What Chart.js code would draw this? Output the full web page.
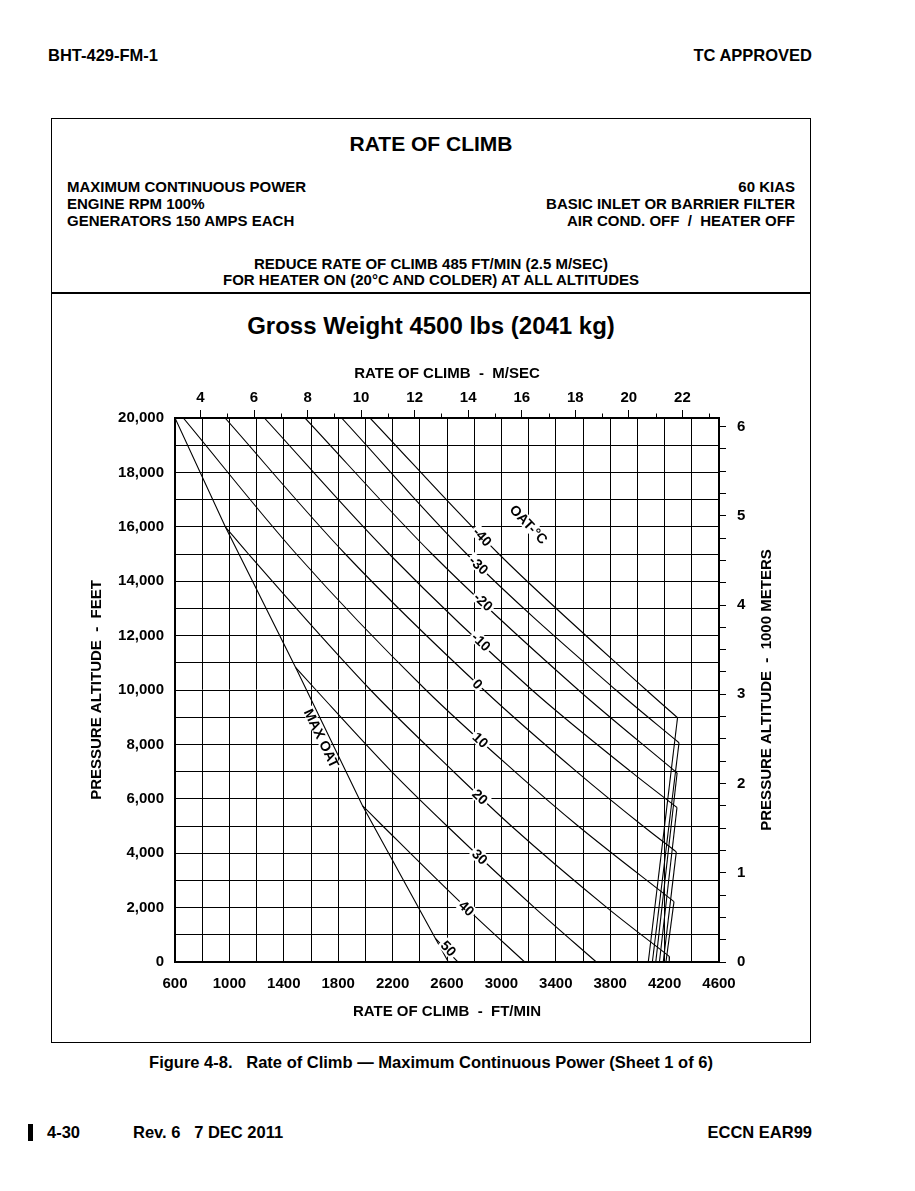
<!DOCTYPE html>
<html><head><meta charset="utf-8">
<script src="https://cdn.jsdelivr.net/npm/chart.js@4.4.1/dist/chart.umd.min.js"></script>
<style>
html,body{margin:0;padding:0;background:#fff;}
body{width:915px;height:1191px;position:relative;overflow:hidden;font-family:"Liberation Sans",Arial,Helvetica,sans-serif;font-weight:bold;color:#000;}
.t{position:absolute;white-space:pre;line-height:20px;height:20px;}
.c{left:0;width:862px;text-align:center;}
#box{position:absolute;left:51px;top:118px;width:760px;height:925px;border:1.5px solid #000;box-sizing:border-box;}
#div{position:absolute;left:51px;top:292px;width:760px;height:1.5px;background:#000;}
#bar{position:absolute;left:28px;top:1124px;width:5px;height:17px;background:#000;}
canvas{position:absolute;left:0;top:0;}
</style></head>
<body>
<div class="t" style="left:48px;top:45px;font-size:16.5px">BHT-429-FM-1</div>
<div class="t" style="right:103px;top:45px;font-size:16.5px">TC APPROVED</div>
<div id="box"></div>
<div id="div"></div>
<div class="t c" style="top:130px;height:28px;line-height:28px;font-size:21px">RATE OF CLIMB</div>
<div class="t" style="left:67px;top:177px;font-size:15px">MAXIMUM CONTINUOUS POWER</div>
<div class="t" style="left:67px;top:194px;font-size:15px">ENGINE RPM 100%</div>
<div class="t" style="left:67px;top:211px;font-size:15px">GENERATORS 150 AMPS EACH</div>
<div class="t" style="right:120px;top:177px;font-size:15px">60 KIAS</div>
<div class="t" style="right:120px;top:194px;font-size:15px">BASIC INLET OR BARRIER FILTER</div>
<div class="t" style="right:120px;top:211px;font-size:15px">AIR COND. OFF  /  HEATER OFF</div>
<div class="t c" style="top:254px;font-size:15px">REDUCE RATE OF CLIMB 485 FT/MIN (2.5 M/SEC)</div>
<div class="t c" style="top:270px;font-size:15px">FOR HEATER ON (20°C AND COLDER) AT ALL ALTITUDES</div>
<div class="t c" style="top:311px;height:30px;line-height:30px;font-size:24px">Gross Weight 4500 lbs (2041 kg)</div>
<div class="t c" style="top:1052px;font-size:16.5px">Figure 4-8.   Rate of Climb — Maximum Continuous Power (Sheet 1 of 6)</div>
<div id="bar"></div>
<div class="t" style="left:47px;top:1122px;font-size:16.5px">4-30</div>
<div class="t" style="left:133px;top:1122px;font-size:16.5px">Rev. 6   7 DEC 2011</div>
<div class="t" style="right:103px;top:1122px;font-size:16.5px">ECCN EAR99</div>
<canvas id="c" width="915" height="1191"></canvas>
<script>
// ---- tick labels ----
const rateTickLabels = [600, 1000, 1400, 1800, 2200, 2600, 3000, 3400, 3800, 4200, 4600];
const altTickLabels = [0, 2000, 4000, 6000, 8000, 10000, 12000, 14000, 16000, 18000, 20000];
const msTickLabels = [4, 6, 8, 10, 12, 14, 16, 18, 20, 22];
const msMinorTicks = [5, 7, 9, 11, 13, 15, 17, 19, 21, 23];
const kmTickLabels = [0, 1, 2, 3, 4, 5, 6];
const kmMinorTicks = [0.25, 0.5, 0.75, 1.25, 1.5, 1.75, 2.25, 2.5, 2.75, 3.25, 3.5, 3.75, 4.25, 4.5, 4.75, 5.25, 5.5, 5.75];

// ---- series: [rate of climb ft/min, pressure altitude ft] ----
const maxOat = [[600,20000],[970,16000],[1488,10820],[1978,5750],[2610,0]];
const oatM40 = [[2034,20000],[2981,15000],[4065,10000],[4295,8980],[4080,0]];
const oatM30 = [[1825,20000],[2745,15000],[3842,10000],[4306,8060],[4110,0]];
const oatM20 = [[1556,20000],[2490,15000],[3566,10000],[4292,6950],[4135,0]];
const oatM10 = [[1257,20000],[2175,15000],[3225,10000],[3952,7000],[4291,5680],[4162,0]];
const oat0   = [[968,20000],[1852,15000],[2871,10000],[3553,7000],[4041,5000],[4286,4050],[4190,0]];
const oat10  = [[661,20000],[1492,15000],[2445,10000],[3099,7000],[3564,5000],[4269,2220],[4210,0]];
const oat20  = [[970,16000],[1140,15000],[2038,10000],[2648,7000],[3073,5000],[3776,2000],[4236,200],[4234,0]];
const oat30  = [[1488,10820],[1637,10000],[2193,7000],[2600,5000],[3243,2000],[3698,0]];
const oat40  = [[1978,5750],[2128,5000],[2739,2000],[3171,0]];
const oat50  = [[2513,880],[2680,0]];

const oatNames = ['-40','-30','-20','-10','0','10','20','30','40','50'];
const oatSeries = [oatM40, oatM30, oatM20, oatM10, oat0, oat10, oat20, oat30, oat40, oat50];
const oatLabelAlt = [15636, 14596, 13246, 11776, 10221, 8162, 6077, 3871, 1974, 503];
const oatLabelRate = [null, null, null, null, null, null, null, null, null, 2612];
const oatTitlePos = [3201, 16091];
const maxOatLabelPos = [1678, 8224];

const FT_PER_MS = 196.850394;
const FT_PER_KM = 3280.8399;

const FONT = '"Liberation Sans", Arial, Helvetica, sans-serif';
const f15 = {family: FONT, size: 15, weight: 'bold'};

const lineStyle = {showLine: true, pointRadius: 0, borderColor: '#000', borderWidth: 1.1, fill: false, xAxisID: 'x', yAxisID: 'y'};
const toXY = s => s.map(p => ({x: p[0], y: p[1]}));
const datasets = [Object.assign({label: 'MAX OAT', data: toXY(maxOat), tension: 0}, lineStyle)];
oatSeries.forEach((s, i) => {
  // split at the power-limit corner (largest rate); the diagonal part is a smooth curve
  let k = 0;
  s.forEach((p, j) => { if (p[0] > s[k][0]) k = j; });
  datasets.push(Object.assign({label: oatNames[i], data: toXY(s.slice(0, k + 1)), cubicInterpolationMode: 'monotone'}, lineStyle));
  if (k < s.length - 1) {
    datasets.push(Object.assign({label: oatNames[i] + ' limit', data: toXY(s.slice(k)), tension: 0}, lineStyle));
  }
});

function segAt(series, alt) {
  for (let j = 0; j < series.length - 1; j++) {
    const a = series[j], b = series[j + 1];
    if (alt <= a[1] && alt >= b[1]) return [a, b];
  }
  return [series[0], series[1]];
}
function rotLabel(ctx, text, px, py, ang, font, bg, bgH) {
  ctx.save();
  ctx.translate(px, py);
  ctx.rotate(ang);
  ctx.font = font;
  const w = ctx.measureText(text).width;
  if (bg) { ctx.fillStyle = '#fff'; ctx.fillRect(-w / 2 - 2, -bgH / 2, w + 4, bgH); }
  ctx.fillStyle = '#000';
  ctx.textAlign = 'center';
  ctx.textBaseline = 'middle';
  ctx.fillText(text, 0, 1);
  ctx.restore();
}

const annot = {
  id: 'annot',
  afterDatasetsDraw(chart) {
    const ctx = chart.ctx, xs = chart.scales.x, ys = chart.scales.y;
    const P = (X, Y) => [xs.getPixelForValue(X), ys.getPixelForValue(Y)];
    const angOf = (a, b) => { const pa = P(a[0], a[1]), pb = P(b[0], b[1]); return Math.atan2(pb[1] - pa[1], pb[0] - pa[0]); };
    oatSeries.forEach((s, i) => {
      const alt = oatLabelAlt[i];
      const [a, b] = segAt(s, alt);
      const X = oatLabelRate[i] !== null ? oatLabelRate[i] : a[0] + (b[0] - a[0]) * (a[1] - alt) / (a[1] - b[1]);
      const [px, py] = P(X, alt);
      rotLabel(ctx, oatNames[i], px, py, angOf(a, b), 'bold 14px ' + FONT, true, 13);
    });
    let sg = segAt(oatM40, oatTitlePos[1]);
    let p = P(oatTitlePos[0], oatTitlePos[1]);
    rotLabel(ctx, 'OAT-°C', p[0], p[1], angOf(sg[0], sg[1]), 'bold 14px ' + FONT, true, 13);
    sg = segAt(maxOat, maxOatLabelPos[1]);
    p = P(maxOatLabelPos[0], maxOatLabelPos[1]);
    rotLabel(ctx, 'MAX OAT', p[0], p[1], angOf(sg[0], sg[1]), 'bold 14px ' + FONT, true, 11);
  },
  afterDraw(chart) {
    const ctx = chart.ctx, xt = chart.scales.xTop, yr = chart.scales.yRight, ca = chart.chartArea;
    ctx.save();
    ctx.strokeStyle = '#000'; ctx.lineWidth = 1;
    msMinorTicks.forEach(v => {
      const px = Math.round(xt.getPixelForValue(v)) + 0.5;
      ctx.beginPath(); ctx.moveTo(px, ca.top - 4.5); ctx.lineTo(px, ca.top); ctx.stroke();
    });
    ctx.translate(yr.right - 9, (ca.top + ca.bottom) / 2);
    ctx.rotate(-Math.PI / 2);
    ctx.font = 'bold 15px ' + FONT;
    ctx.fillStyle = '#000'; ctx.textAlign = 'center'; ctx.textBaseline = 'middle';
    ctx.fillText('PRESSURE ALTITUDE  -  1000 METERS', 0, 0);
    ctx.restore();
  }
};

new Chart(document.getElementById('c'), {
  type: 'scatter',
  data: {datasets},
  plugins: [annot],
  options: {
    responsive: false, animation: false,
    layout: {padding: {left: 88, top: 365, right: 139, bottom: 170}},
    plugins: {legend: {display: false}, tooltip: {enabled: false}},
    scales: {
      x: {
        type: 'linear', position: 'bottom', min: 600, max: 4600,
        afterFit: s => { s.height = 59; },
        ticks: {stepSize: 200, autoSkip: false, maxRotation: 0, padding: 13, color: '#000', font: f15,
          callback: v => rateTickLabels.includes(v) ? String(v) : ''},
        grid: {color: '#000', lineWidth: 1, drawTicks: false},
        border: {color: '#000', width: 2},
        title: {display: true, text: 'RATE OF CLIMB  -  FT/MIN', color: '#000', font: f15, padding: 0}
      },
      y: {
        type: 'linear', position: 'left', min: 0, max: 20000,
        afterFit: s => { s.width = 87; },
        ticks: {stepSize: 1000, autoSkip: false, padding: 11, color: '#000', font: f15,
          callback: v => altTickLabels.includes(v) ? v.toLocaleString('en-US') : ''},
        grid: {color: '#000', lineWidth: 1, drawTicks: false},
        border: {color: '#000', width: 2},
        title: {display: true, text: 'PRESSURE ALTITUDE  -  FEET', color: '#000', font: f15, padding: 0}
      },
      xTop: {
        type: 'linear', position: 'top', min: 600 / FT_PER_MS, max: 4600 / FT_PER_MS,
        afterFit: s => { s.height = 53; },
        afterBuildTicks: s => { s.ticks = msTickLabels.map(v => ({value: v})); },
        ticks: {autoSkip: false, maxRotation: 0, padding: 3, color: '#000', font: f15, callback: v => String(v)},
        grid: {drawOnChartArea: false, drawTicks: true, tickLength: 8, color: '#000', lineWidth: 1},
        border: {color: '#000', width: 2},
        title: {display: true, text: 'RATE OF CLIMB  -  M/SEC', color: '#000', font: f15, padding: 0}
      },
      yRight: {
        type: 'linear', position: 'right', min: 0, max: 20000 / FT_PER_KM,
        afterFit: s => { s.width = 57; },
        afterBuildTicks: s => { s.ticks = kmTickLabels.concat(kmMinorTicks).sort((a, b) => a - b).map(v => ({value: v})); },
        ticks: {autoSkip: false, padding: 11, color: '#000', font: f15,
          callback: v => kmTickLabels.includes(v) ? String(v) : ''},
        grid: {drawOnChartArea: false, drawTicks: true, tickLength: 7, color: '#000', lineWidth: 1},
        border: {color: '#000', width: 2}
      }
    }
  }
});
</script>
</body></html>
